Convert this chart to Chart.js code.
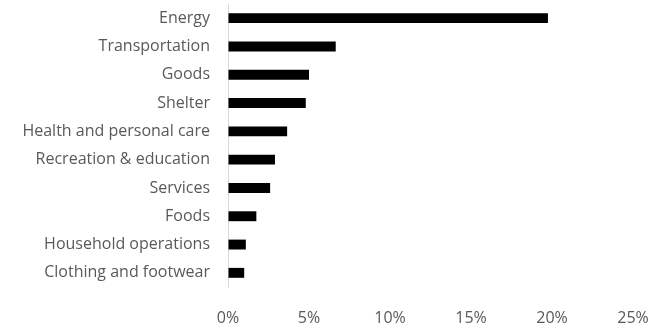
<!DOCTYPE html>
<html>
<head>
<meta charset="utf-8">
<script src="https://cdn.jsdelivr.net/npm/chart.js@4"></script>
<style>
  html, body { margin: 0; padding: 0; background: #fff; }
  #wrap { width: 661px; height: 326px; }
</style>
</head>
<body>
<div id="wrap"><canvas id="barChart"></canvas></div>
<script>
const categories = ['Energy', 'Transportation', 'Goods', 'Shelter', 'Health and personal care',
    'Recreation & education', 'Services', 'Foods', 'Household operations', 'Clothing and footwear'];
const values = [19.75, 6.65, 5.0, 4.8, 3.65, 2.9, 2.6, 1.75, 1.1, 1.0];
const xTicks = [0, 5, 10, 15, 20, 25];

const textColor = '#595959';
const fontFamily = '"Open Sans", sans-serif';

function createBarChart(elementID) {
    var ctx = document.getElementById(elementID);
    return new Chart(ctx, {
        type: 'bar',
        data: {
            labels: categories,
            datasets: [{
                data: values,
                backgroundColor: '#000000',
                borderWidth: 0,
                barPercentage: 0.7,
                categoryPercentage: 0.5
            }]
        },
        options: {
            indexAxis: 'y',
            responsive: true,
            maintainAspectRatio: false,
            animation: false,
            layout: { padding: { top: 4, right: 28, bottom: 0, left: 0 } },
            plugins: {
                legend: { display: false },
                tooltip: { enabled: false }
            },
            scales: {
                x: {
                    min: 0,
                    max: 25,
                    afterBuildTicks: function (scale) {
                        scale.ticks = xTicks.map(v => ({ value: v }));
                    },
                    afterFit: function (scale) { scale.height = 39; },
                    // invisible ticks push the labels down without widening side padding
                    grid: { display: true, drawOnChartArea: false, drawTicks: true, tickLength: 22, tickColor: 'rgba(0,0,0,0)' },
                    border: { display: false },
                    ticks: {
                        padding: 0,
                        color: textColor,
                        font: { family: fontFamily, size: 16 },
                        callback: v => v + '%'
                    }
                },
                y: {
                    afterFit: function (scale) { scale.width = 228; },
                    grid: { display: true, drawOnChartArea: false, drawTicks: true, tickLength: 18, tickColor: 'rgba(0,0,0,0)' },
                    border: { display: true, color: '#d9d9d9', width: 1 },
                    ticks: {
                        padding: 0,
                        color: textColor,
                        font: { family: fontFamily, size: 16, lineHeight: 0.5 }
                    }
                }
            }
        }
    });
}

createBarChart('barChart');
</script>
</body>
</html>
